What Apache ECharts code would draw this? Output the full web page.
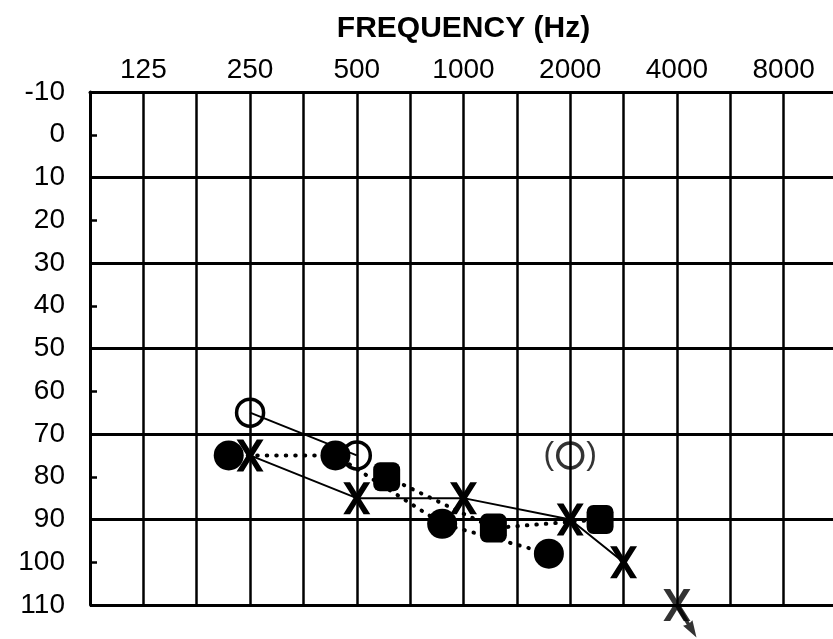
<!DOCTYPE html>
<html>
<head>
<meta charset="utf-8">
<script src="https://cdn.jsdelivr.net/npm/echarts@6/dist/echarts.min.js"></script>
<style>
  html, body { margin: 0; padding: 0; background: #fff; }
  #chart { width: 833px; height: 639px; }
</style>
</head>
<body>
<div id="chart"></div>
<script>
// Audiogram: hearing level (dB HL, downward) against test frequency (Hz)
const freqTicks = [125, 250, 500, 1000, 2000, 4000, 8000];
const levelTicks = [-10, 0, 10, 20, 30, 40, 50, 60, 70, 80, 90, 100, 110];

// Right ear, air conduction (O)
const rightAirFreq = [250, 500];
const rightAirDb = [65, 75];
// Right ear, air conduction, bracketed response (O)
const rightAirBrFreq = [2000];
const rightAirBrDb = [75];
// Left ear, air conduction (X)
const leftAirFreq = [250, 500, 1000, 2000, 3000];
const leftAirDb = [75, 85, 85, 90, 100];
// Left ear, air conduction, no response at the limit (X with arrow)
const leftAirNrFreq = [4000];
const leftAirNrDb = [110];
// Filled circles (dotted)
const filledCircleFreq = [250, 500, 1000, 2000];
const filledCircleDb = [75, 75, 91, 98];
// Filled squares (dotted)
const filledSquareFreq = [500, 1000, 2000];
const filledSquareDb = [80, 92, 90];

// Audiogram columns: octaves above 125 Hz, inter-octave tones on the half lines
function column(f) {
  return Math.round(2 * Math.log2(f / freqTicks[0])) / 2;
}
function points(freqs, levels, shift) {
  return freqs.map((f, i) => [column(f) + (shift || 0), levels[i]]);
}

const FONT = '"Liberation Sans", Arial, Helvetica, sans-serif';
const X_PATH = 'path://M0,0 L5,0 L10,8.5 L15,0 L20,0 L12.5,12.5 L20,25 L15,25 L10,16.5 L5,25 L0,25 L7.5,12.5 Z';
const ARROW_PATH = 'path://M3,0 L7,0 L6.6,22 L10,21 L5,38 L0,21 L3.4,22 Z';
const ARROW_TILT = 31;
const ARROW_REACH = 19;

const chart = echarts.init(document.getElementById('chart'), null, { renderer: 'canvas' });

chart.setOption({
  animation: false,
  backgroundColor: '#ffffff',
  grid: { left: 90, right: -4, top: 92, bottom: 34, containLabel: false, outerBoundsMode: 'none' },
  xAxis: {
    type: 'value',
    position: 'top',
    min: column(freqTicks[0]) - 0.5,
    max: column(freqTicks[freqTicks.length - 1]) + 0.5,
    interval: 0.5,
    name: 'FREQUENCY (Hz)',
    nameLocation: 'middle',
    nameGap: 48,
    nameTextStyle: { fontFamily: FONT, fontSize: 30, fontWeight: 'bold', color: '#000' },
    axisLine: { show: true, onZero: false, lineStyle: { color: '#000', width: 3 } },
    axisTick: { show: false },
    axisLabel: {
      show: true,
      margin: 8,
      fontFamily: FONT,
      fontSize: 28,
      color: '#000',
      formatter: function (v) {
        const k = Math.round(v);
        if (Math.abs(v - k) > 1e-6) return '';
        const f = freqTicks.find(t => column(t) === k);
        return f === undefined ? '' : String(f);
      }
    },
    splitLine: { show: true, lineStyle: { color: '#000', width: 2.5 } }
  },
  yAxis: {
    type: 'value',
    inverse: true,
    min: levelTicks[0],
    max: levelTicks[levelTicks.length - 1],
    interval: 10,
    axisLine: { show: true, onZero: false, lineStyle: { color: '#000', width: 3 } },
    axisTick: { show: true, inside: true, length: 7, lineStyle: { color: '#000', width: 2.5 } },
    axisLabel: { margin: 25, fontFamily: FONT, fontSize: 28, color: '#000' },
    splitLine: { show: true, lineStyle: { color: ['#000', 'rgba(0,0,0,0)'], width: 3 } }
  },
  series: [
    {
      name: 'filled circles',
      type: 'line',
      data: points(filledCircleFreq, filledCircleDb, -0.2),
      symbol: 'circle',
      symbolSize: 30,
      itemStyle: { color: '#000' },
      lineStyle: { color: '#000', width: 4, type: [0.5, 9], cap: 'round' },
      z: 3
    },
    {
      name: 'filled squares',
      type: 'line',
      data: points(filledSquareFreq, filledSquareDb, 0.28),
      symbol: 'roundRect',
      symbolSize: [27, 29],
      itemStyle: { color: '#000' },
      lineStyle: { color: '#000', width: 4, type: [0.5, 9], cap: 'round' },
      z: 3
    },
    {
      name: 'right air',
      type: 'line',
      data: points(rightAirFreq, rightAirDb),
      symbol: 'circle',
      symbolSize: 27,
      itemStyle: { color: 'rgba(0,0,0,0)', borderColor: '#000', borderWidth: 3.5 },
      lineStyle: { color: '#000', width: 2 },
      z: 4
    },
    {
      name: 'right air bracketed',
      type: 'scatter',
      data: points(rightAirBrFreq, rightAirBrDb),
      symbol: 'circle',
      symbolSize: 25,
      itemStyle: { color: 'rgba(0,0,0,0)', borderColor: '#000', borderWidth: 3.5 },
      label: {
        show: true,
        position: 'inside',
        formatter: '(\u2003)',
        fontFamily: FONT,
        fontSize: 32,
        color: '#000',
        textBorderWidth: 0
      },
      z: 4
    },
    {
      name: 'left air',
      type: 'line',
      data: points(leftAirFreq, leftAirDb),
      symbol: X_PATH,
      symbolSize: [27, 32],
      itemStyle: { color: '#000' },
      lineStyle: { color: '#000', width: 2 },
      z: 5
    },
    {
      name: 'left air no response',
      type: 'scatter',
      clip: false,
      data: points(leftAirNrFreq, leftAirNrDb),
      symbol: X_PATH,
      symbolSize: [27, 32],
      itemStyle: { color: '#000' },
      z: 5
    },
    {
      name: 'left air no response arrow',
      type: 'scatter',
      clip: false,
      data: points(leftAirNrFreq, leftAirNrDb),
      symbol: ARROW_PATH,
      symbolSize: [11, 38],
      symbolRotate: ARROW_TILT,
      symbolOffset: [
        ARROW_REACH * Math.sin(ARROW_TILT * Math.PI / 180),
        ARROW_REACH * Math.cos(ARROW_TILT * Math.PI / 180)
      ],
      itemStyle: { color: '#000' },
      z: 5
    }
  ]
});
</script>
</body>
</html>
